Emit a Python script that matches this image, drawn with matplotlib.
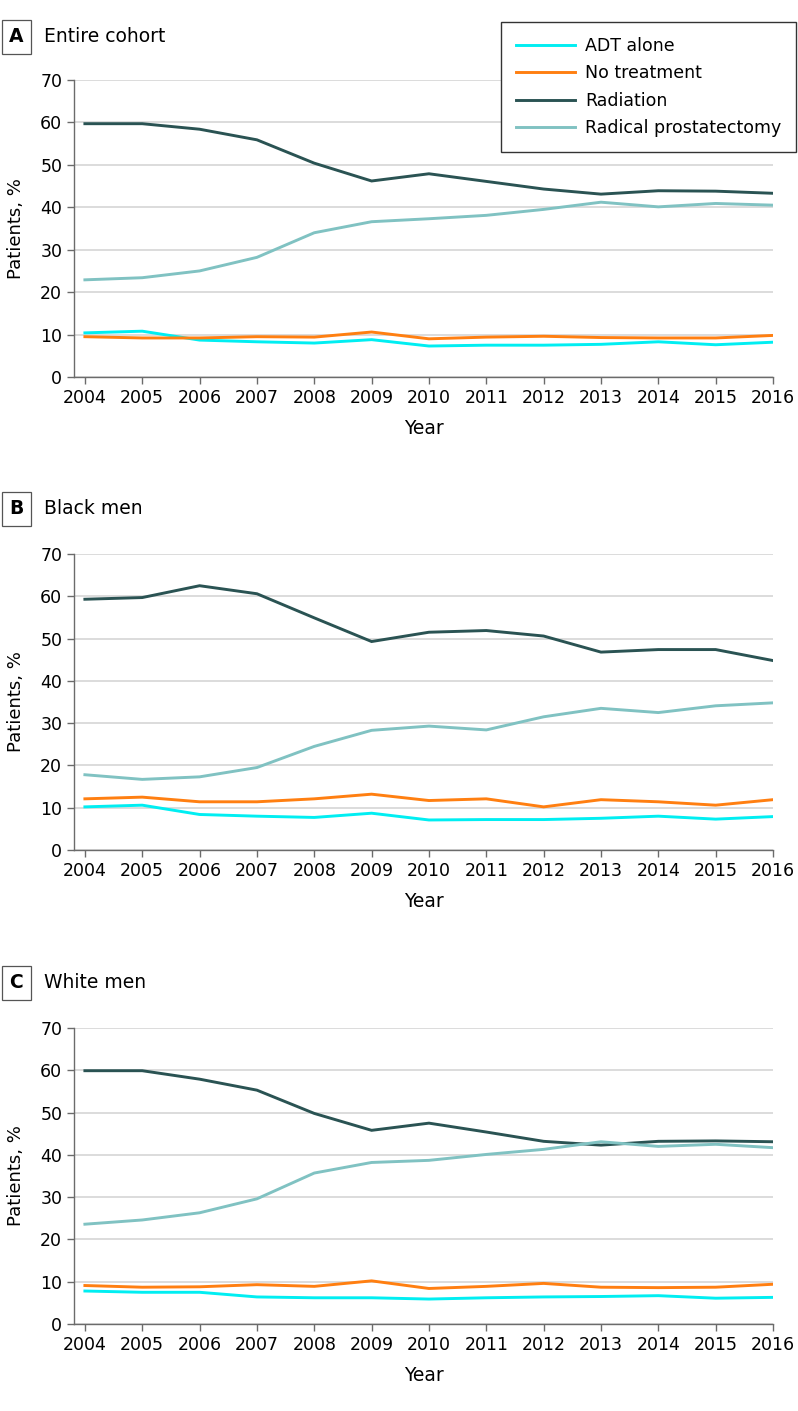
import matplotlib
matplotlib.use("Agg")
import numpy as np
import matplotlib.pyplot as plt

years = np.arange(2004, 2017)

labels = ["ADT alone", "No treatment", "Radiation", "Radical prostatectomy"]
colors = ["#00EEF2", "#FF7F11", "#2A5353", "#80C2C2"]

# panel A: entire cohort
a_adt = [10.4, 10.8, 8.7, 8.3, 8.0, 8.8, 7.3, 7.5, 7.5, 7.7, 8.3, 7.6, 8.2]
a_none = [9.5, 9.2, 9.2, 9.5, 9.4, 10.6, 9.0, 9.4, 9.6, 9.3, 9.2, 9.2, 9.8]
a_rad = [59.7, 59.7, 58.4, 55.9, 50.4, 46.2, 47.9, 46.1, 44.3, 43.1, 43.9, 43.8, 43.3]
a_rp = [22.9, 23.4, 25.0, 28.2, 34.0, 36.6, 37.3, 38.1, 39.5, 41.2, 40.1, 40.9, 40.5]

# panel B: Black men
b_adt = [10.2, 10.6, 8.4, 8.0, 7.7, 8.7, 7.1, 7.2, 7.2, 7.5, 8.0, 7.3, 7.9]
b_none = [12.1, 12.5, 11.4, 11.4, 12.1, 13.2, 11.7, 12.1, 10.2, 11.9, 11.4, 10.6, 11.9]
b_rad = [59.3, 59.7, 62.5, 60.6, 54.9, 49.3, 51.5, 51.9, 50.6, 46.8, 47.4, 47.4, 44.8]
b_rp = [17.8, 16.7, 17.3, 19.5, 24.5, 28.3, 29.3, 28.4, 31.5, 33.5, 32.5, 34.1, 34.8]

# panel C: White men
c_adt = [7.8, 7.5, 7.5, 6.4, 6.2, 6.2, 5.9, 6.2, 6.4, 6.5, 6.7, 6.1, 6.3]
c_none = [9.1, 8.7, 8.8, 9.3, 8.9, 10.2, 8.4, 8.9, 9.6, 8.7, 8.6, 8.7, 9.4]
c_rad = [59.9, 59.9, 57.9, 55.3, 49.8, 45.8, 47.5, 45.4, 43.2, 42.3, 43.2, 43.3, 43.1]
c_rp = [23.6, 24.6, 26.3, 29.6, 35.7, 38.2, 38.7, 40.1, 41.3, 43.1, 42.0, 42.5, 41.7]

panels = [
    ("A", "Entire cohort", [a_adt, a_none, a_rad, a_rp]),
    ("B", "Black men", [b_adt, b_none, b_rad, b_rp]),
    ("C", "White men", [c_adt, c_none, c_rad, c_rp]),
]

W, H = 798, 1411
fig = plt.figure(figsize=(W / 100, H / 100), dpi=100)

# pixel boxes: (top of axes, bottom of axes, y of panel heading)
boxes = [(80, 377, 37), (554, 850, 509), (1028, 1324, 983)]
x0, x1 = 74, 773

spine_col = "#6b6b6b"

for (letter, title, series), (top, bot, ty) in zip(panels, boxes):
    ax = fig.add_axes([x0 / W, 1 - bot / H, (x1 - x0) / W, (bot - top) / H])
    for vals, lab, col in zip(series, labels, colors):
        ax.plot(years, vals, color=col, linewidth=2.1, label=lab,
                solid_joinstyle="miter", zorder=3)

    ax.set_xlim(2003.81, 2016)
    ax.set_ylim(0, 70)
    ax.set_xticks(years)
    ax.set_yticks(np.arange(0, 71, 10))
    ax.yaxis.grid(True, color="#d9d9d9", linewidth=1.3)
    ax.set_axisbelow(True)
    for s in ["top", "right"]:
        ax.spines[s].set_visible(False)
    for s in ["left", "bottom"]:
        ax.spines[s].set_color(spine_col)
        ax.spines[s].set_linewidth(1.0)
    ax.tick_params(axis="both", colors=spine_col, labelcolor="black",
                   labelsize=12.5, length=5, width=1.0)
    ax.set_xlabel("Year", fontsize=13.5, labelpad=9)
    ax.set_ylabel("Patients, %", fontsize=13, labelpad=11)

    fig.text(16.5 / W, 1 - ty / H, letter, fontsize=13.5, fontweight="bold",
             ha="center", va="center",
             bbox=dict(boxstyle="square,pad=0.4", facecolor="white",
                       edgecolor="#555555", linewidth=0.9))
    fig.text(44 / W, 1 - ty / H, title, fontsize=13.5, ha="left", va="center")

    if letter == "A":
        leg = ax.legend(loc="upper right", bbox_to_anchor=(796 / W, 1 - 22 / H),
                        bbox_transform=fig.transFigure, borderaxespad=0,
                        fontsize=12.5, handlelength=3.4, labelspacing=0.55,
                        fancybox=False, framealpha=1, edgecolor="#333333",
                        borderpad=0.85, handletextpad=0.6)
        leg.get_frame().set_linewidth(1.0)
        leg.set_zorder(5)

fig.savefig("out.png", dpi=100)
plt.close(fig)
